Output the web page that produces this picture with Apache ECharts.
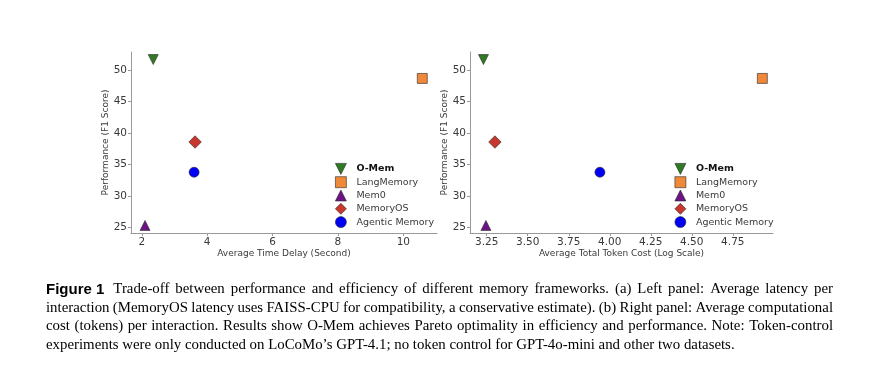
<!DOCTYPE html>
<html>
<head>
<meta charset="utf-8">
<script src="https://cdn.jsdelivr.net/npm/echarts@6/dist/echarts.min.js"></script>
<style>
html,body{margin:0;padding:0;background:#fff;}
#chart{width:876px;height:386px;}
</style>
</head>
<body>
<div id="chart"></div>
<script>
// ---- data ----
const methods = ['O-Mem', 'LangMemory', 'Mem0', 'MemoryOS', 'Agentic Memory'];
const f1Scores = [51.7, 48.7, 25.35, 38.6, 33.8];
const latencySeconds = [2.35, 10.58, 2.1, 3.63, 3.6];
const tokenCostLog = [3.23, 4.93, 3.245, 3.30, 3.94];
const yTicks = [25, 30, 35, 40, 45, 50];
const latencyTicks = [2, 4, 6, 8, 10];
const tokenTicks = [3.25, 3.5, 3.75, 4.0, 4.25, 4.5, 4.75];
const captionLabel = 'Figure 1';
const captionLines = [
  'Trade-off between performance and efficiency of different memory frameworks. (a) Left panel: Average latency per',
  'interaction (MemoryOS latency uses FAISS-CPU for compatibility, a conservative estimate). (b) Right panel: Average computational',
  'cost (tokens) per interaction. Results show O-Mem achieves Pareto optimality in efficiency and performance. Note: Token-control',
  'experiments were only conducted on LoCoMo\u2019s GPT-4.1; no token control for GPT-4o-mini and other two datasets.'
];

// ---- styles ----
const downTri = 'path://M0,0L10,0L5,10Z';
const styles = {
  'O-Mem': {symbol: downTri, size: [10, 10], color: '#2f7a22'},
  'LangMemory': {symbol: 'rect', size: 10, color: '#f0883a'},
  'Mem0': {symbol: 'triangle', size: [10, 10], color: '#6c1485'},
  'MemoryOS': {symbol: 'diamond', size: [12.5, 12.5], color: '#c8372d'},
  'Agentic Memory': {symbol: 'circle', size: 10, color: '#0000f5'}
};
const FONT = '"DejaVu Sans", sans-serif';
const axisGray = '#999';
const textGray = '#3a3a3a';

function makeSeries(xs, gi) {
  return methods.map((m, i) => ({
    type: 'scatter',
    name: m,
    xAxisIndex: gi, yAxisIndex: gi,
    symbol: styles[m].symbol,
    symbolSize: styles[m].size,
    data: [[xs[i], f1Scores[i]]],
    itemStyle: {color: styles[m].color, borderColor: 'rgba(40,40,40,0.75)', borderWidth: 0.8, opacity: 1},
    emphasis: {disabled: true},
    z: 3
  }));
}

function xAxis(gi, min, max, ticks, name, fmt) {
  return {
    type: 'value', gridIndex: gi, min: min, max: max,
    name: name, nameLocation: 'middle', nameGap: 14,
    nameTextStyle: {fontFamily: FONT, fontSize: 9, color: textGray},
    axisLine: {show: true, lineStyle: {color: axisGray, width: 1}},
    axisTick: {show: true, length: 3, customValues: ticks, lineStyle: {color: axisGray}},
    axisLabel: {customValues: ticks, margin: 4, fontFamily: FONT, fontSize: 10.5, color: textGray, formatter: fmt},
    splitLine: {show: false}
  };
}
function yAxis(gi) {
  return {
    type: 'value', gridIndex: gi, min: 24.15, max: 52.9,
    name: 'Performance (F1 Score)', nameLocation: 'middle', nameGap: 15, nameRotate: 90,
    nameTextStyle: {fontFamily: FONT, fontSize: 9, color: textGray},
    axisLine: {show: true, lineStyle: {color: axisGray, width: 1}},
    axisTick: {show: true, length: 3, customValues: yTicks, lineStyle: {color: axisGray}},
    axisLabel: {customValues: yTicks, margin: 4, fontFamily: FONT, fontSize: 10.5, color: textGray},
    splitLine: {show: false}
  };
}

function legend(left) {
  return {
    orient: 'vertical', left: left, top: 163, padding: 0,
    itemWidth: 11, itemHeight: 11, itemGap: 1.5, itemTextGap: 10,
    selectedMode: false,
    itemStyle: {borderWidth: 0.8, borderColor: 'rgba(40,40,40,0.75)'},
    data: methods.map(m => ({name: m, icon: m === 'O-Mem' ? downTri : styles[m].symbol})),
    formatter: n => n === 'O-Mem' ? '{b|' + n + '}' : '{n|' + n + '}',
    textStyle: {
      rich: {
        b: {fontFamily: FONT, fontSize: 9.5, fontWeight: 'bold', color: '#111', lineHeight: 12, padding: [0, 0, 0, 5]},
        n: {fontFamily: FONT, fontSize: 9.5, color: textGray, lineHeight: 12, padding: [0, 0, 0, 5]}
      }
    }
  };
}

// ---- caption (justified) ----
function captionGraphics() {
  const ctx = document.createElement('canvas').getContext('2d');
  const serif = '14.85px "Liberation Serif", serif';
  const bold = 'bold 15px "Liberation Sans", sans-serif';
  const left = 46, right = 833, y0 = 289.5, dy = 18.4;
  const els = [];
  captionLines.forEach((line, li) => {
    let x = left;
    const y = y0 + li * dy;
    if (li === 0) {
      ctx.font = bold;
      els.push({type: 'text', x: x, y: y, style: {text: captionLabel, font: bold, fill: '#000', verticalAlign: 'middle'}});
      x += ctx.measureText(captionLabel).width + 9;
    }
    ctx.font = serif;
    const words = line.split(' ');
    const widths = words.map(w => ctx.measureText(w).width);
    const total = widths.reduce((a, b) => a + b, 0);
    const justify = li < captionLines.length - 1;
    const gap = justify ? (right - x - total) / (words.length - 1) : ctx.measureText(' ').width;
    words.forEach((w, wi) => {
      els.push({type: 'text', x: x, y: y, style: {text: w, font: serif, fill: '#000', verticalAlign: 'middle'}});
      x += widths[wi] + gap;
    });
  });
  return els;
}

const chart = echarts.init(document.getElementById('chart'), null, {renderer: 'canvas'});
chart.setOption({
  animation: false,
  backgroundColor: '#fff',
  grid: [
    {left: 131, top: 52, width: 306, height: 181},
    {left: 470, top: 52, width: 303, height: 181}
  ],
  xAxis: [
    xAxis(0, 1.67, 11.03, latencyTicks, 'Average Time Delay (Second)', v => String(v)),
    xAxis(1, 3.148, 4.995, tokenTicks, 'Average Total Token Cost (Log Scale)', v => v.toFixed(2))
  ],
  yAxis: [yAxis(0), yAxis(1)],
  legend: [legend(335), legend(674.5)],
  series: makeSeries(latencySeconds, 0).concat(makeSeries(tokenCostLog, 1)),
  graphic: captionGraphics()
});
</script>
</body>
</html>
